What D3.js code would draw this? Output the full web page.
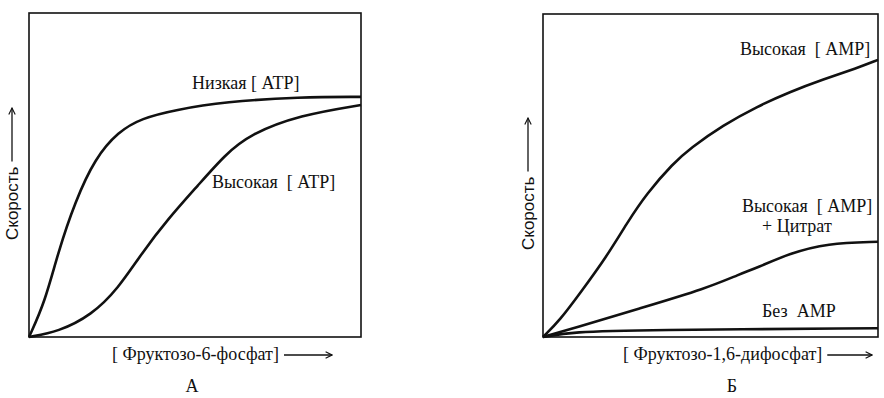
<!DOCTYPE html>
<html>
<head>
<meta charset="utf-8">
<title>Фосфофруктокиназа / фруктозо-1,6-дифосфатаза</title>
<script src="https://cdn.jsdelivr.net/npm/d3@7"></script>
<style>
  body { margin: 0; background: #fff; }
</style>
</head>
<body>
<svg width="884" height="398"></svg>
<script>
// panel A: rate vs [fructose-6-phosphate], values in % of frame
const lowAtp  = [[0,0],[4.8,10.8],[8.8,26.3],[13.9,41.8],[19.9,55.2],[26.9,63.4],[33.9,67.5],[44,70.1],[59,72.6],[81.6,74.1],[100,74.1]];
const highAtp = [[0,0],[8.8,1.6],[18.9,6.8],[26.9,15],[33.9,25.8],[42,36.6],[51,46.9],[59,56.2],[66.6,62.6],[81.6,68.5],[100,71.6]];

// panel Б: rate vs [fructose-1,6-bisphosphate]
const highAmp    = [[0,0],[5.1,5.3],[11,13.5],[19,24.9],[25,35.2],[31,44.5],[38.9,53.8],[43.9,58.4],[53.8,65.6],[63.8,71.3],[73.7,75.9],[83.7,79.8],[93.6,83.2],[100,85.8]];
const ampCitrate = [[0,0],[9,2.7],[29,8.9],[48.9,15.1],[58.8,19.5],[63.8,21.4],[73.7,25.9],[84.7,29],[100,29.5]];
const noAmp      = [[0,0],[9,1.6],[29,2.2],[100,2.7]];

const SERIF = '"Liberation Serif", "DejaVu Serif", serif';
const SANS = '"Liberation Sans", "DejaVu Sans", sans-serif';
const INK = "#111";

const svg = d3.select("svg");

// open arrowhead
svg.append("defs").append("marker")
  .attr("id", "arr")
  .attr("viewBox", "0 0 10 10")
  .attr("refX", 9).attr("refY", 5)
  .attr("markerWidth", 8).attr("markerHeight", 8)
  .attr("markerUnits", "userSpaceOnUse")
  .attr("orient", "auto")
  .append("path")
  .attr("d", "M1,1 L9,5 L1,9")
  .attr("fill", "none").attr("stroke", INK).attr("stroke-width", 1.4);

const line = (x, y) => d3.line()
  .x(d => x(d[0])).y(d => y(d[1]))
  .curve(d3.curveBasis);

function serifText(g, x, y, s, size) {
  return g.append("text")
    .attr("x", x).attr("y", y)
    .attr("font-family", SERIF).attr("font-size", size || 18)
    .attr("fill", INK)
    .attr("xml:space", "preserve")
    .text(s);
}

function panel(opt) {
  const x = d3.scaleLinear([0, 100], opt.xr);
  const y = d3.scaleLinear([0, 100], opt.yr);
  const g = svg.append("g");

  g.append("rect")
    .attr("x", x(0)).attr("y", y(100))
    .attr("width", x(100) - x(0)).attr("height", y(0) - y(100))
    .attr("fill", "none").attr("stroke", INK).attr("stroke-width", 1.6);

  opt.series.forEach(s => {
    g.append("path")
      .attr("d", line(x, y)(s))
      .attr("fill", "none").attr("stroke", INK).attr("stroke-width", 2.6);
  });

  // x label with arrow
  const xl = serifText(g, opt.xLabel[0], 360, opt.xLabel[1], 18);
  const w = xl.node().getComputedTextLength();
  g.append("line")
    .attr("x1", opt.xLabel[0] + w + 5).attr("x2", opt.xArrowEnd)
    .attr("y1", 355).attr("y2", 355)
    .attr("stroke", INK).attr("stroke-width", 1.3)
    .attr("marker-end", "url(#arr)");

  // y label, rotated, with arrow going up
  const yl = g.append("text")
    .attr("font-family", SANS).attr("font-size", 17).attr("fill", INK)
    .attr("transform", `translate(${opt.yLabel[0] + 6},${opt.yLabel[1]}) rotate(-90)`)
    .text("Скорость");
  const h = yl.node().getComputedTextLength();
  g.append("line")
    .attr("x1", opt.yLabel[0]).attr("x2", opt.yLabel[0])
    .attr("y1", opt.yLabel[1] - h - 5).attr("y2", opt.yArrowEnd)
    .attr("stroke", INK).attr("stroke-width", 1.3)
    .attr("marker-end", "url(#arr)");

  opt.notes.forEach(n => serifText(g, n[0], n[1], n[2], 18));

  serifText(g, opt.letter[0], 392, opt.letter[1], 18).attr("text-anchor", "middle");
}

panel({
  xr: [29, 361], yr: [337, 13],
  series: [lowAtp, highAtp],
  xLabel: [112, "[ Фруктозо-6-фосфат]"], xArrowEnd: 332,
  yLabel: [12, 240], yArrowEnd: 108,
  notes: [[192, 89, "Низкая [ ATP]"], [212, 188, "Высокая  [ ATP]"]],
  letter: [192, "А"]
});

panel({
  xr: [543, 878], yr: [337, 14],
  series: [highAmp, ampCitrate, noAmp],
  xLabel: [623, "[ Фруктозо-1,6-дифосфат]"], xArrowEnd: 872,
  yLabel: [528, 250], yArrowEnd: 118,
  notes: [[740, 55, "Высокая  [ AMP]"], [742, 212, "Высокая  [ AMP]"],
          [762, 232, "+ Цитрат"], [762, 317, "Без  AMP"]],
  letter: [732, "Б"]
});
</script>
</body>
</html>
